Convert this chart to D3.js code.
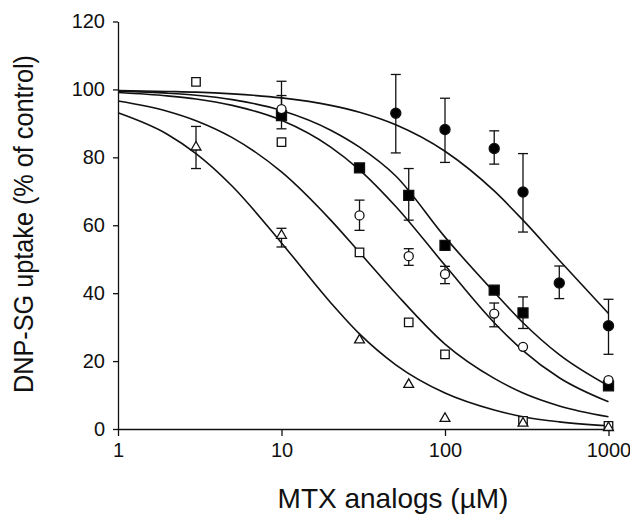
<!DOCTYPE html>
<html>
<head>
<meta charset="utf-8">
<script src="https://cdn.jsdelivr.net/npm/d3@7/dist/d3.min.js"></script>
<style>
    body { margin: 0; background: #fff; }
    svg { display: block; font-family: "Liberation Sans", Arial, Helvetica, sans-serif; }
</style>
</head>
<body>
<div id="uptake-chart"></div>
<script>

// Axis ticks

var xTicks = [ 1, 10, 100, 1000 ];
var yTicks = [ 0, 20, 40, 60, 80, 100, 120 ];

// Fitted curves at these concentrations

var curveX = [ 1, 2, 3, 5, 10, 20, 30, 50, 100, 200, 300, 500, 1000 ];
var curveFilledCircle = [ 99.7, 99.4, 99.2, 98.7, 97.5, 95.3, 93.3, 89.6, 81.8, 70.1, 61.5, 49.7, 34.0 ];
var curveFilledSquare = [ 99.5, 98.9, 98.3, 97.0, 93.8, 88.0, 83.0, 74.5, 56.5, 40.3, 31.3, 21.9, 12.7 ];
var curveOpenCircle = [ 99.1, 98.1, 97.2, 95.3, 90.9, 83.0, 76.3, 65.5, 48.2, 31.3, 23.1, 15.1, 8.0 ];
var curveOpenSquare = [ 96.6, 93.6, 90.8, 85.8, 75.7, 61.5, 52.0, 39.9, 25.0, 14.9, 10.6, 6.8, 3.6 ];
var curveTriangle = [ 93.1, 86.8, 81.1, 71.5, 54.8, 37.2, 28.0, 18.9, 10.6, 5.6, 3.6, 2.1, 0.95 ];

// Measured points ( value, error up, error down )

var filledCircleX = [ 50, 100, 200, 300, 500, 1000 ];
var filledCircleY = [ 93.0, 88.2, 82.6, 69.8, 43.0, 30.4 ];
var filledCircleErrHi = [ 11.4, 9.2, 5.2, 11.3, 5.0, 7.8 ];
var filledCircleErrLo = [ 11.7, 9.7, 4.6, 11.8, 4.6, 8.4 ];

var filledSquareX = [ 10, 30, 60, 100, 200, 300, 1000 ];
var filledSquareY = [ 92.3, 76.9, 68.8, 54.1, 40.9, 34.2, 12.7 ];
var filledSquareErrHi = [ 5.9, 0, 7.9, 0, 0, 4.7, 0 ];
var filledSquareErrLo = [ 3.9, 0, 7.3, 0, 0, 4.6, 0 ];

var openCircleX = [ 10, 30, 60, 100, 200, 300, 1000 ];
var openCircleY = [ 94.2, 62.9, 50.9, 45.6, 34.0, 24.2, 14.4 ];
var openCircleErrHi = [ 8.2, 4.5, 2.2, 2.3, 3.1, 0, 0 ];
var openCircleErrLo = [ 0, 4.4, 2.7, 2.8, 3.9, 0, 0 ];

var openSquareX = [ 3, 10, 30, 60, 100, 300, 1000 ];
var openSquareY = [ 102.2, 84.5, 52.0, 31.4, 22.0, 2.4, 0.9 ];
var openSquareErrHi = [ 0, 0, 0, 0, 0, 0, 0 ];
var openSquareErrLo = [ 0, 0, 0, 0, 0, 0, 0 ];

var triangleX = [ 3, 10, 30, 60, 100, 300, 1000 ];
var triangleY = [ 83.0, 57.0, 26.2, 13.1, 3.1, 1.7, 0.4 ];
var triangleErrHi = [ 6.1, 2.1, 0, 0, 0, 0, 0 ];
var triangleErrLo = [ 6.3, 3.4, 0, 0, 0, 0, 0 ];

// Chart size

var svg = d3.select('#uptake-chart').append("svg")
    .attr("width", 630)
    .attr("height", 514);

var x = d3.scaleLog().domain([ 1, 1000 ]).range([ 118, 608.5 ]);
var y = d3.scaleLinear().domain([ 0, 120 ]).range([ 429, 21.5 ]);

// Axes

var yAxis = svg.append("g")
    .attr("transform", "translate(118,0)")
    .call(d3.axisLeft(y).tickValues(yTicks).tickSize(5).tickSizeOuter(0).tickPadding(8));

var xAxis = svg.append("g")
    .attr("transform", "translate(0,429)")
    .call(d3.axisBottom(x).tickValues(xTicks).tickFormat(d3.format("d")).tickSize(7).tickSizeOuter(0).tickPadding(7));

svg.selectAll(".domain, .tick line")
    .attr("stroke", "#111")
    .attr("stroke-width", 1.3);

svg.selectAll(".tick text")
    .attr("fill", "#111")
    .style("font-size", "20px")
    .style("font-family", "\"Liberation Sans\", Arial, sans-serif");

// Axis titles

svg.append("text")
    .attr("x", 393)
    .attr("y", 508)
    .attr("text-anchor", "middle")
    .style("font-size", "28px")
    .style("fill", "#111")
    .text("MTX analogs (\u00b5M)");

svg.append("text")
    .attr("transform", "translate(33,224) rotate(-90)")
    .attr("text-anchor", "middle")
    .attr("textLength", 338)
    .attr("lengthAdjust", "spacingAndGlyphs")
    .style("font-size", "28px")
    .style("fill", "#111")
    .text("DNP-SG uptake (% of control)");

// Curves

var line = d3.line()
    .x(function ( d ) { return x(d[0]); })
    .y(function ( d ) { return y(d[1]); })
    .curve(d3.curveMonotoneX);

[ curveFilledCircle, curveFilledSquare, curveOpenCircle, curveOpenSquare, curveTriangle ].forEach(function ( values ) {

    svg.append("path")
        .datum(d3.zip(curveX, values))
        .attr("d", line)
        .attr("fill", "none")
        .attr("stroke", "#111")
        .attr("stroke-width", 1.6);

});

// Points with error bars

var series = [
    { xs: filledCircleX, ys: filledCircleY, hi: filledCircleErrHi, lo: filledCircleErrLo, symbol: d3.symbolCircle, size: 80, fill: "#000" },
    { xs: filledSquareX, ys: filledSquareY, hi: filledSquareErrHi, lo: filledSquareErrLo, symbol: d3.symbolSquare, size: 100, fill: "#000" },
    { xs: openCircleX, ys: openCircleY, hi: openCircleErrHi, lo: openCircleErrLo, symbol: d3.symbolCircle, size: 64, fill: "#fff" },
    { xs: openSquareX, ys: openSquareY, hi: openSquareErrHi, lo: openSquareErrLo, symbol: d3.symbolSquare, size: 72, fill: "#fff" },
    { xs: triangleX, ys: triangleY, hi: triangleErrHi, lo: triangleErrLo, symbol: d3.symbolTriangle, size: 42, fill: "#fff" }
];

var bars = svg.append("g").attr("stroke", "#111").attr("stroke-width", 1.3);

series.forEach(function ( s ) {

    s.xs.forEach(function ( cx, i ) {

        var px = x(cx);
        var top = s.ys[i] + s.hi[i];
        var bottom = s.ys[i] - s.lo[i];

        if ( s.hi[i] > 0 ) {
            bars.append("line").attr("x1", px).attr("x2", px).attr("y1", y(s.ys[i])).attr("y2", y(top));
            bars.append("line").attr("x1", px - 5).attr("x2", px + 5).attr("y1", y(top)).attr("y2", y(top));
        }

        if ( s.lo[i] > 0 ) {
            bars.append("line").attr("x1", px).attr("x2", px).attr("y1", y(s.ys[i])).attr("y2", y(bottom));
            bars.append("line").attr("x1", px - 5).attr("x2", px + 5).attr("y1", y(bottom)).attr("y2", y(bottom));
        }

    });

});

series.forEach(function ( s ) {

    svg.append("g")
        .selectAll("path")
        .data(d3.zip(s.xs, s.ys))
        .enter()
        .append("path")
        .attr("transform", function ( d ) { return "translate(" + x(d[0]) + "," + y(d[1]) + ")"; })
        .attr("d", d3.symbol().type(s.symbol).size(s.size))
        .attr("fill", s.fill)
        .attr("stroke", "#111")
        .attr("stroke-width", 1.3);

});

</script>
</body>
</html>
